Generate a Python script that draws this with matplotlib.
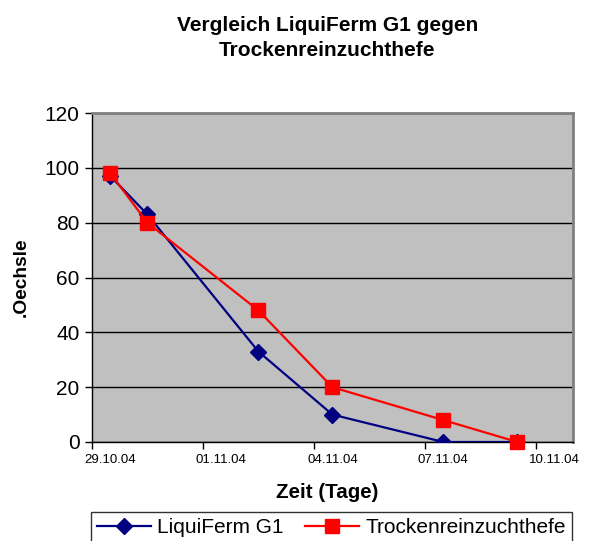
import matplotlib.pyplot as plt
import numpy as np
import pandas as pd

plt.rcParams['font.family'] = ['Liberation Sans', 'DejaVu Sans']

# Messdaten
start = '2004-10-29'
datum = ['2004-10-29', '2004-10-30', '2004-11-02', '2004-11-04', '2004-11-07', '2004-11-09']
liquiferm = [97, 83, 33, 10, 0, 0]
trocken = [98, 80, 48, 20, 8, 0]
tick_daten = ['2004-10-29', '2004-11-01', '2004-11-04', '2004-11-07', '2004-11-10']
y_ticks = [0, 20, 40, 60, 80, 100, 120]

t0 = pd.Timestamp(start)
tage = np.array([(pd.Timestamp(d) - t0).days for d in datum])
tick_tage = np.array([(pd.Timestamp(d) - t0).days for d in tick_daten])
tick_labels = [pd.Timestamp(d).strftime('%d.%m.%y') for d in tick_daten]

fig = plt.figure(figsize=(5.93, 5.41), dpi=100)
ax = fig.add_axes([0.155, 0.183, 0.811, 0.608])
ax.set_facecolor('#C0C0C0')

# Excel-Datumsachse: Punkte in der Mitte des Tages
ax.plot(tage + 0.5, liquiferm, color='#000080', lw=1.6, marker='D', ms=8,
        label='LiquiFerm G1', zorder=3)
ax.plot(tage + 0.5, trocken, color='#FF0000', lw=1.6, marker='s', ms=10,
        label='Trockenreinzuchthefe', zorder=4, clip_on=False)

ax.set_xlim(0, 13)
ax.set_ylim(0, 120)
ax.set_yticks(y_ticks)
ax.tick_params(axis='y', labelsize=15, length=5, width=1, direction='out', pad=4)
ax.set_xticks(tick_tage)
ax.set_xticklabels([])
ax.set_xticks(tick_tage + 0.5, minor=True)
ax.set_xticklabels(tick_labels, minor=True)
ax.tick_params(axis='x', which='major', length=5, width=1, direction='out')
ax.tick_params(axis='x', which='minor', length=0, labelsize=9.5, pad=9)

ax.grid(axis='y', color='black', lw=1)
ax.set_axisbelow(True)

for s in ['top', 'right']:
    ax.spines[s].set_color('#808080')
    ax.spines[s].set_linewidth(2)
for s in ['left', 'bottom']:
    ax.spines[s].set_color('black')
    ax.spines[s].set_linewidth(1)

fig.text(0.552, 0.97, 'Vergleich LiquiFerm G1 gegen\nTrockenreinzuchthefe',
         ha='center', va='top', fontsize=15, fontweight='bold', linespacing=1.4)
fig.text(0.036, 0.487, '.Oechsle', rotation=90, ha='center', va='center',
         fontsize=13.8, fontweight='bold')
fig.text(0.552, 0.089, 'Zeit (Tage)', ha='center', va='center',
         fontsize=14.8, fontweight='bold')

leg = fig.legend(loc='upper left', bbox_to_anchor=(0.153, 0.054), ncol=2,
                 fontsize=15, frameon=True, fancybox=False, edgecolor='black',
                 handlelength=2.6, columnspacing=1.0, borderpad=0.3,
                 handletextpad=0.3, borderaxespad=0)
leg.get_frame().set_linewidth(1)

fig.savefig('out.png', dpi=100)
